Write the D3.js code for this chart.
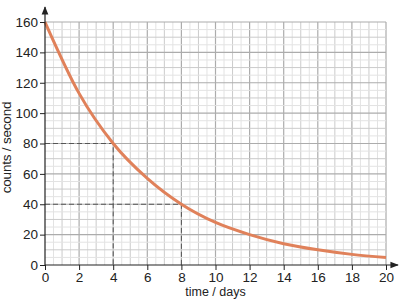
<!DOCTYPE html>
<meta charset="utf-8">
<html>
<head>
<script src="https://d3js.org/d3.v7.min.js"></script>
<style>
body { margin: 0; background: #fff; }
text { font-family: "Liberation Sans", Arial, sans-serif; fill: #222; }
</style>
</head>
<body>
<div id="chart"></div>
<script>
// decay readings, counts per second every 2 days
var days = [0, 2, 4, 6, 8, 10, 12, 14, 16, 18, 20];
var counts = [160, 113, 80, 57, 40, 28, 20, 14, 10, 7, 5];
var xTicks = [0, 2, 4, 6, 8, 10, 12, 14, 16, 18, 20];
var yTicks = [0, 20, 40, 60, 80, 100, 120, 140, 160];
// half-life guide points
var guides = [{t: 4, c: 80}, {t: 8, c: 40}];

var margin = {top: 22, right: 14, bottom: 34, left: 45},
    W = 400, H = 299,
    width = W - margin.left - margin.right,
    height = H - margin.top - margin.bottom;

var svg = d3.select("#chart").append("svg")
    .attr("width", W).attr("height", H)
  .append("g")
    .attr("transform", "translate(" + margin.left + "," + margin.top + ")");

var x = d3.scaleLinear().domain([0, 20]).range([0, 341]);
var y = d3.scaleLinear().domain([0, 160]).range([height, 0]);

// graph paper
var g = svg.append("g");
d3.range(0.5, 20.01, 0.5).forEach(function(v) {
  var c = v % 2 === 0 ? "#acacac" : (v % 1 === 0 ? "#cbcbcb" : "#e3e3e3");
  g.append("line").attr("x1", x(v)).attr("x2", x(v)).attr("y1", y(0)).attr("y2", y(160))
    .attr("stroke", c).attr("stroke-width", v % 2 === 0 ? 1.2 : 1);
});
d3.range(5, 160.01, 5).forEach(function(v) {
  var c = v % 20 === 0 ? "#acacac" : (v % 10 === 0 ? "#cbcbcb" : "#e3e3e3");
  g.append("line").attr("x1", x(0)).attr("x2", x(20)).attr("y1", y(v)).attr("y2", y(v))
    .attr("stroke", c).attr("stroke-width", v % 20 === 0 ? 1.2 : 1);
});

// dashed guides
guides.forEach(function(d) {
  svg.append("path")
    .attr("d", "M" + x(0) + "," + y(d.c) + "H" + x(d.t) + "V" + y(0))
    .attr("fill", "none").attr("stroke", "#555").attr("stroke-width", 1)
    .attr("stroke-dasharray", "5,3");
});

// curve
var line = d3.line()
  .x(function(d, i) { return x(days[i]); })
  .y(function(d) { return y(d); })
  .curve(d3.curveMonotoneX);
svg.append("path").datum(counts)
  .attr("d", line)
  .attr("fill", "none").attr("stroke", "#e0815a").attr("stroke-width", 3);

// axes
var xAxis = svg.append("g").attr("transform", "translate(0," + height + ")")
  .call(d3.axisBottom(x).tickValues(xTicks).tickSize(5).tickPadding(2));
var yAxis = svg.append("g")
  .call(d3.axisLeft(y).tickValues(yTicks).tickSize(5).tickPadding(2));
[xAxis, yAxis].forEach(function(a) {
  a.select(".domain").remove();
  a.selectAll("line").attr("stroke", "#222");
  a.selectAll("text").style("font-size", "13.5px").attr("fill", "#222")
    .style("font-family", "'Liberation Sans', Arial, sans-serif");
});

// axis lines with arrows
svg.append("defs").append("marker")
  .attr("id", "arr").attr("viewBox", "0 0 10 10").attr("refX", 9).attr("refY", 5)
  .attr("markerWidth", 7).attr("markerHeight", 7).attr("orient", "auto")
  .append("path").attr("d", "M0,1L10,5L0,9z").attr("fill", "#222");
svg.append("line").attr("x1", x(0)).attr("x2", x(0)).attr("y1", height).attr("y2", -15)
  .attr("stroke", "#222").attr("stroke-width", 1.2).attr("marker-end", "url(#arr)");
svg.append("line").attr("x1", x(0)).attr("x2", 353).attr("y1", height).attr("y2", height)
  .attr("stroke", "#222").attr("stroke-width", 1.2).attr("marker-end", "url(#arr)");

// labels
svg.append("text")
  .attr("transform", "translate(" + (-34) + "," + (height / 2 + 4) + ") rotate(-90)")
  .attr("text-anchor", "middle").style("font-size", "13.5px").style("letter-spacing", "-0.2px")
  .text("counts / second");
svg.append("text")
  .attr("x", x(10)).attr("y", height + 31)
  .attr("text-anchor", "middle").style("font-size", "12.5px")
  .text("time / days");
</script>
</body>
</html>
